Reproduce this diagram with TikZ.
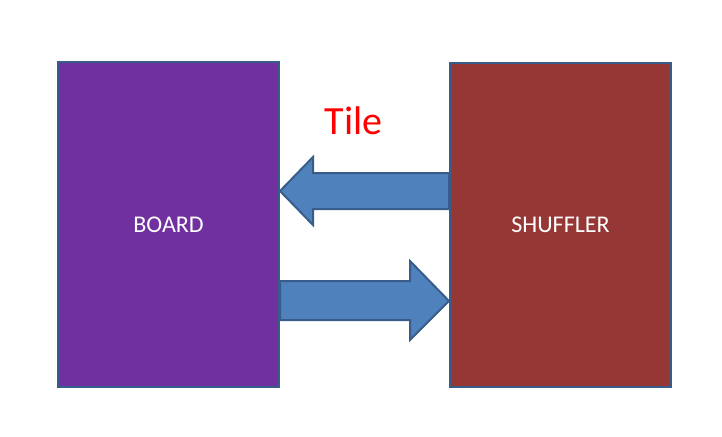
\documentclass[tikz,border=0pt]{standalone}
\usepackage{fontspec}
\setmainfont{Carlito}

\definecolor{boardfill}{HTML}{7030A0}
\definecolor{shufflefill}{HTML}{953735}
\definecolor{arrowfill}{HTML}{4F81BD}
\definecolor{edgeblue}{HTML}{385D8A}

\begin{document}
\begin{tikzpicture}[x=1pt, y=-1pt,
  block/.style={draw=edgeblue, line width=2pt, minimum width=221pt,
    text=white, font=\fontsize{24}{28}\selectfont, inner sep=0pt},
  blockarrow/.style={draw=edgeblue, fill=arrowfill, line width=2pt, line join=miter}]
  \useasboundingbox (0,0) rectangle (722,436);

  % Boards
  \node[block, fill=boardfill, minimum height=325pt] (board) at (168.5,224.5) {BOARD};
  \node[block, fill=shufflefill, minimum height=324pt] (shuffler) at (560.5,225) {SHUFFLER};

  % Arrow from shuffler to board
  \draw[blockarrow] (shuffler.west |- 0,173) -- (313,173) -- (313,157)
    -- (board.east |- 0,191) -- (313,225) -- (313,209)
    -- (shuffler.west |- 0,209) -- cycle;
  % Arrow from board to shuffler
  \draw[blockarrow] (board.east |- 0,281) -- (410,281) -- (410,261)
    -- (shuffler.west |- 0,301) -- (410,340) -- (410,320)
    -- (board.east |- 0,320) -- cycle;

  % Label
  \node[text=red, font=\fontsize{40}{48}\selectfont] (tile) at (353.5,121) {Tile};
\end{tikzpicture}
\end{document}
